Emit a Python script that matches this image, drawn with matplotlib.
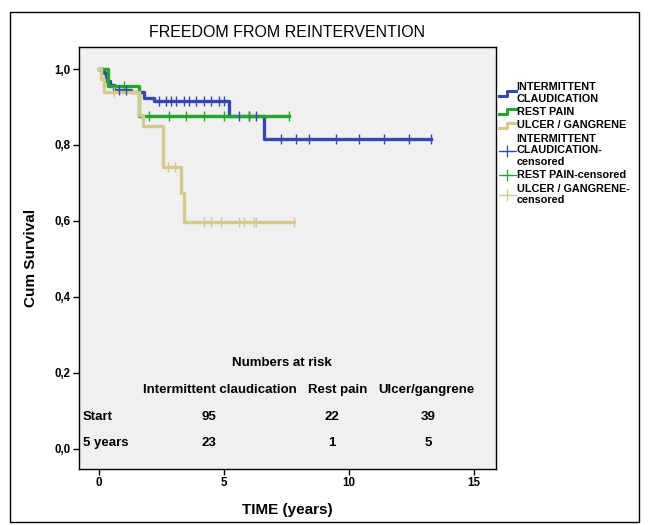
import matplotlib
matplotlib.use("Agg")
import matplotlib.pyplot as plt
from matplotlib.lines import Line2D
from matplotlib.patches import Rectangle
from matplotlib.legend_handler import HandlerBase

plt.rcParams["font.family"] = ["Liberation Sans", "DejaVu Sans"]

# Kaplan-Meier step data
ic_times = [0, 0.2, 0.3, 0.45, 0.6, 1.3, 1.8, 2.2, 5.2, 6.6, 13.3]
ic_surv = [1.0, 0.989, 0.968, 0.957, 0.946, 0.940, 0.925, 0.916, 0.876, 0.815, 0.815]
ic_cens_t = [0.8, 1.1, 2.4, 2.7, 2.9, 3.1, 3.4, 3.6, 3.9, 4.2, 4.5, 4.8, 5.0,
             5.6, 6.0, 6.3, 7.3, 7.9, 8.4, 9.5, 10.4, 11.4, 12.4, 13.3]

rp_times = [0, 0.35, 1.6, 7.6]
rp_surv = [1.0, 0.955, 0.875, 0.875]
rp_cens_t = [1.0, 2.0, 2.8, 3.5, 4.2, 5.0, 6.0, 7.6]

ug_times = [0, 0.1, 0.2, 1.6, 1.75, 2.57, 3.3, 3.4, 7.8]
ug_surv = [1.0, 0.974, 0.94, 0.88, 0.85, 0.742, 0.674, 0.597, 0.597]
ug_cens_t = [0.6, 2.76, 3.04, 4.2, 4.5, 4.9, 5.6, 5.8, 6.2, 6.3, 7.8]

ic_color = "#3448b0"
rp_color = "#22a62c"
ug_color = "#d3ca8c"

risk_groups = ["Intermittent claudication", "Rest pain", "Ulcer/gangrene"]
risk_rows = ["Start", "5 years"]
risk_start = [95, 22, 39]
risk_5y = [23, 1, 5]


def surv_at(times, surv, t):
    val = surv[0]
    for ti, si in zip(times, surv):
        if ti <= t:
            val = si
    return val


class StepHandler(HandlerBase):
    def create_artists(self, legend, orig, xd, yd, w, h, fontsize, trans):
        xs = [xd, xd + w * 0.45, xd + w * 0.45, xd + w]
        ys = [yd + h * 0.1, yd + h * 0.1, yd + h * 0.75, yd + h * 0.75]
        ln = Line2D(xs, ys, color=orig.get_color(), lw=orig.get_linewidth(),
                    transform=trans)
        return [ln]


fig = plt.figure(figsize=(6.48, 5.25), dpi=100)
ax = fig.add_axes([0.1219, 0.1067, 0.6435, 0.8038])
ax.set_facecolor("#f0f0f0")

series = [
    (ic_times, ic_surv, ic_cens_t, ic_color),
    (rp_times, rp_surv, rp_cens_t, rp_color),
    (ug_times, ug_surv, ug_cens_t, ug_color),
]
for times, surv, cens, col in series:
    ax.step(times, surv, where="post", color=col, lw=2.4, zorder=3)
for times, surv, cens, col in series:
    ys = [surv_at(times, surv, t) for t in cens]
    ax.plot(cens, ys, ls="none", marker="|", ms=7, mew=1.0, color=col, zorder=4)

ax.set_xlim(-0.8, 15.88)
ax.set_ylim(-0.053, 1.058)
ax.set_xticks([0, 5, 10, 15])
ax.set_yticks([0, 0.2, 0.4, 0.6, 0.8, 1.0])
ax.set_yticklabels([f"{v:.1f}".replace(".", ",") for v in ax.get_yticks()])
for lab in ax.get_xticklabels() + ax.get_yticklabels():
    lab.set_fontweight("bold")
    lab.set_fontsize(8.3)
ax.tick_params(direction="out", length=4, width=1, pad=2)
for sp in ax.spines.values():
    sp.set_linewidth(1.0)

ax.set_title("FREEDOM FROM REINTERVENTION", fontsize=11.5, pad=7)
ax.set_xlabel("TIME (years)", fontsize=11, fontweight="bold", labelpad=10)
ax.set_ylabel("Cum Survival", fontsize=11, fontweight="bold", labelpad=12)

# numbers at risk table
tk = dict(fontsize=9.5, fontweight="bold", va="center")
ax.text(7.32, 0.226, "Numbers at risk", ha="center", **tk)
col_x = [4.84, 9.56, 13.08]
val_x = [4.4, 9.32, 13.16]
for cx, g in zip(col_x, risk_groups):
    ax.text(cx, 0.155, g, ha="center", **tk)
for ry, rname, vals in zip([0.084, 0.016], risk_rows, [risk_start, risk_5y]):
    ax.text(-0.64, ry, rname, ha="left", **tk)
    for vx, v in zip(val_x, vals):
        ax.text(vx, ry, str(v), ha="center", **tk)

handles = [
    Line2D([0], [0], color=ic_color, lw=2.2),
    Line2D([0], [0], color=rp_color, lw=2.2),
    Line2D([0], [0], color=ug_color, lw=2.2),
    Line2D([0], [0], color=ic_color, lw=0.9, marker="+", ms=9, mew=0.9),
    Line2D([0], [0], color=rp_color, lw=0.9, marker="+", ms=9, mew=0.9),
    Line2D([0], [0], color=ug_color, lw=0.9, marker="+", ms=9, mew=0.9),
]
labels = [
    "INTERMITTENT\nCLAUDICATION",
    "REST PAIN",
    "ULCER / GANGRENE",
    "INTERMITTENT\nCLAUDICATION-\ncensored",
    "REST PAIN-censored",
    "ULCER / GANGRENE-\ncensored",
]
hmap = {h: StepHandler() for h in handles[:3]}
leg = fig.legend(handles, labels, loc="upper left",
                 bbox_to_anchor=(0.763, 0.852), frameon=False,
                 handlelength=1.6, handletextpad=0.05, labelspacing=0.3,
                 borderaxespad=0, handler_map=hmap,
                 prop=dict(size=7.8, weight="bold"))
for t in leg.get_texts():
    t.set_linespacing(1.22)

fig.patches.append(Rectangle((10 / 648, 1 - 522 / 525), 629 / 648, 510 / 525,
                             transform=fig.transFigure, fill=False,
                             ec="black", lw=1.0))

fig.savefig("out.png", dpi=100)
